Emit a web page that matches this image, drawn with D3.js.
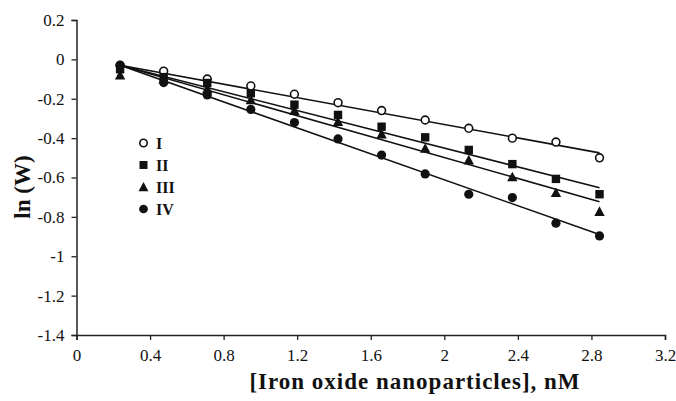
<!DOCTYPE html>
<html><head><meta charset="utf-8">
<script src="https://cdn.jsdelivr.net/npm/d3@7"></script>
<style>
html,body{margin:0;padding:0;background:#fff;}
svg{display:block;font-family:"Liberation Serif","Times New Roman",serif;}
</style></head>
<body>
<svg id="chart" width="676" height="401"></svg>
<script>
// ---- data ----
const concentrations = [0.237, 0.474, 0.711, 0.948, 1.185, 1.422, 1.659, 1.896, 2.133, 2.37, 2.607, 2.844];
const seriesNames = ["I", "II", "III", "IV"];
const seriesI   = [-0.03, -0.06, -0.10, -0.135, -0.177, -0.22, -0.26, -0.308, -0.35, -0.40, -0.42, -0.50];
const seriesII  = [-0.05, -0.09, -0.12, -0.172, -0.23, -0.282, -0.342, -0.396, -0.46, -0.532, -0.607, -0.685];
const seriesIII = [-0.08, -0.10, -0.15, -0.206, -0.26, -0.316, -0.379, -0.452, -0.511, -0.597, -0.677, -0.773];
const seriesIV  = [-0.03, -0.118, -0.181, -0.254, -0.321, -0.404, -0.486, -0.582, -0.685, -0.702, -0.832, -0.897];
// fitted trend lines (start and end values)
const fitX = [0.237, 2.844];
const fitStart = [-0.03, -0.03, -0.03, -0.03];
const fitEnd = [-0.475, -0.652, -0.723, -0.89];
const xTicks = [0, 0.4, 0.8, 1.2, 1.6, 2, 2.4, 2.8, 3.2];
const yTicks = [0.2, 0, -0.2, -0.4, -0.6, -0.8, -1, -1.2, -1.4];
const xTitle = "[Iron oxide nanoparticles], nM";
const yTitle = "ln (W)";

const allSeries = [seriesI, seriesII, seriesIII, seriesIV];
const symbols = ["openCircle", "square", "triangle", "circle"];

const svg = d3.select("#chart");
const x = d3.scaleLinear().domain([0, 3.2]).range([76.5, 665]);
const y = d3.scaleLinear().domain([-1.4, 0.2]).range([335, 20]);

const fmt = d => (Math.round(d * 10) / 10).toString();

// axes
const xAxis = svg.append("g").attr("transform", `translate(0,${y(-1.4)})`)
  .call(d3.axisBottom(x).tickValues(xTicks).tickFormat(fmt).tickSize(5).tickPadding(9));
const yAxis = svg.append("g").attr("transform", `translate(${x(0)},0)`)
  .call(d3.axisLeft(y).tickValues(yTicks).tickFormat(fmt).tickSize(5).tickPadding(7));
[xAxis, yAxis].forEach(g => {
  g.select(".domain").attr("stroke", "#222").attr("stroke-width", 1.5);
  g.selectAll(".tick line").attr("stroke", "#222").attr("stroke-width", 1.3);
  g.selectAll(".tick text").attr("fill", "#111").style("font-size", "17px")
    .style("font-family", '"Liberation Serif","Times New Roman",serif');
});

// fit lines
const line = d3.line().x(d => x(d[0])).y(d => y(d[1]));
seriesNames.forEach((n, i) => {
  svg.append("path")
    .attr("d", line([[fitX[0], fitStart[i]], [fitX[1], fitEnd[i]]]))
    .attr("fill", "none").attr("stroke", "#111").attr("stroke-width", 1.6);
});

function drawMarker(g, type, cx, cy, scale) {
  const s = scale || 1;
  if (type === "openCircle") {
    g.append("circle").attr("cx", cx).attr("cy", cy).attr("r", 3.9 * s)
      .attr("fill", "#fff").attr("stroke", "#111").attr("stroke-width", 1.6);
  } else if (type === "circle") {
    g.append("circle").attr("cx", cx).attr("cy", cy).attr("r", 4.6 * s).attr("fill", "#111");
  } else if (type === "square") {
    const h = 4.2 * s;
    g.append("rect").attr("x", cx - h).attr("y", cy - h).attr("width", 2 * h).attr("height", 2 * h).attr("fill", "#111");
  } else if (type === "triangle") {
    const h = 5.2 * s;
    g.append("path").attr("d", `M${cx},${cy - h}L${cx + h},${cy + h * 0.85}L${cx - h},${cy + h * 0.85}Z`).attr("fill", "#111");
  }
}

// markers
const mg = svg.append("g");
allSeries.forEach((vals, i) => {
  vals.forEach((v, j) => drawMarker(mg, symbols[i], x(concentrations[j]), y(v)));
});

// legend
const lg = svg.append("g");
seriesNames.forEach((n, i) => {
  const ly = 143 + i * 22;
  drawMarker(lg, symbols[i], 143.5, ly, 0.95);
  lg.append("text").attr("x", 156).attr("y", ly + 5.5).text(n)
    .style("font-size", "16px").style("font-weight", "bold").attr("fill", "#111");
});

// titles
svg.append("text").attr("x", 415).attr("y", 389).attr("text-anchor", "middle")
  .style("font-size", "23px").style("font-weight", "bold").style("letter-spacing", "1px")
  .attr("fill", "#111").text(xTitle);
svg.append("text").attr("transform", "translate(30,187) rotate(-90)").attr("text-anchor", "middle")
  .style("font-size", "23px").style("font-weight", "bold").attr("fill", "#111").text(yTitle);
</script>
</body></html>
